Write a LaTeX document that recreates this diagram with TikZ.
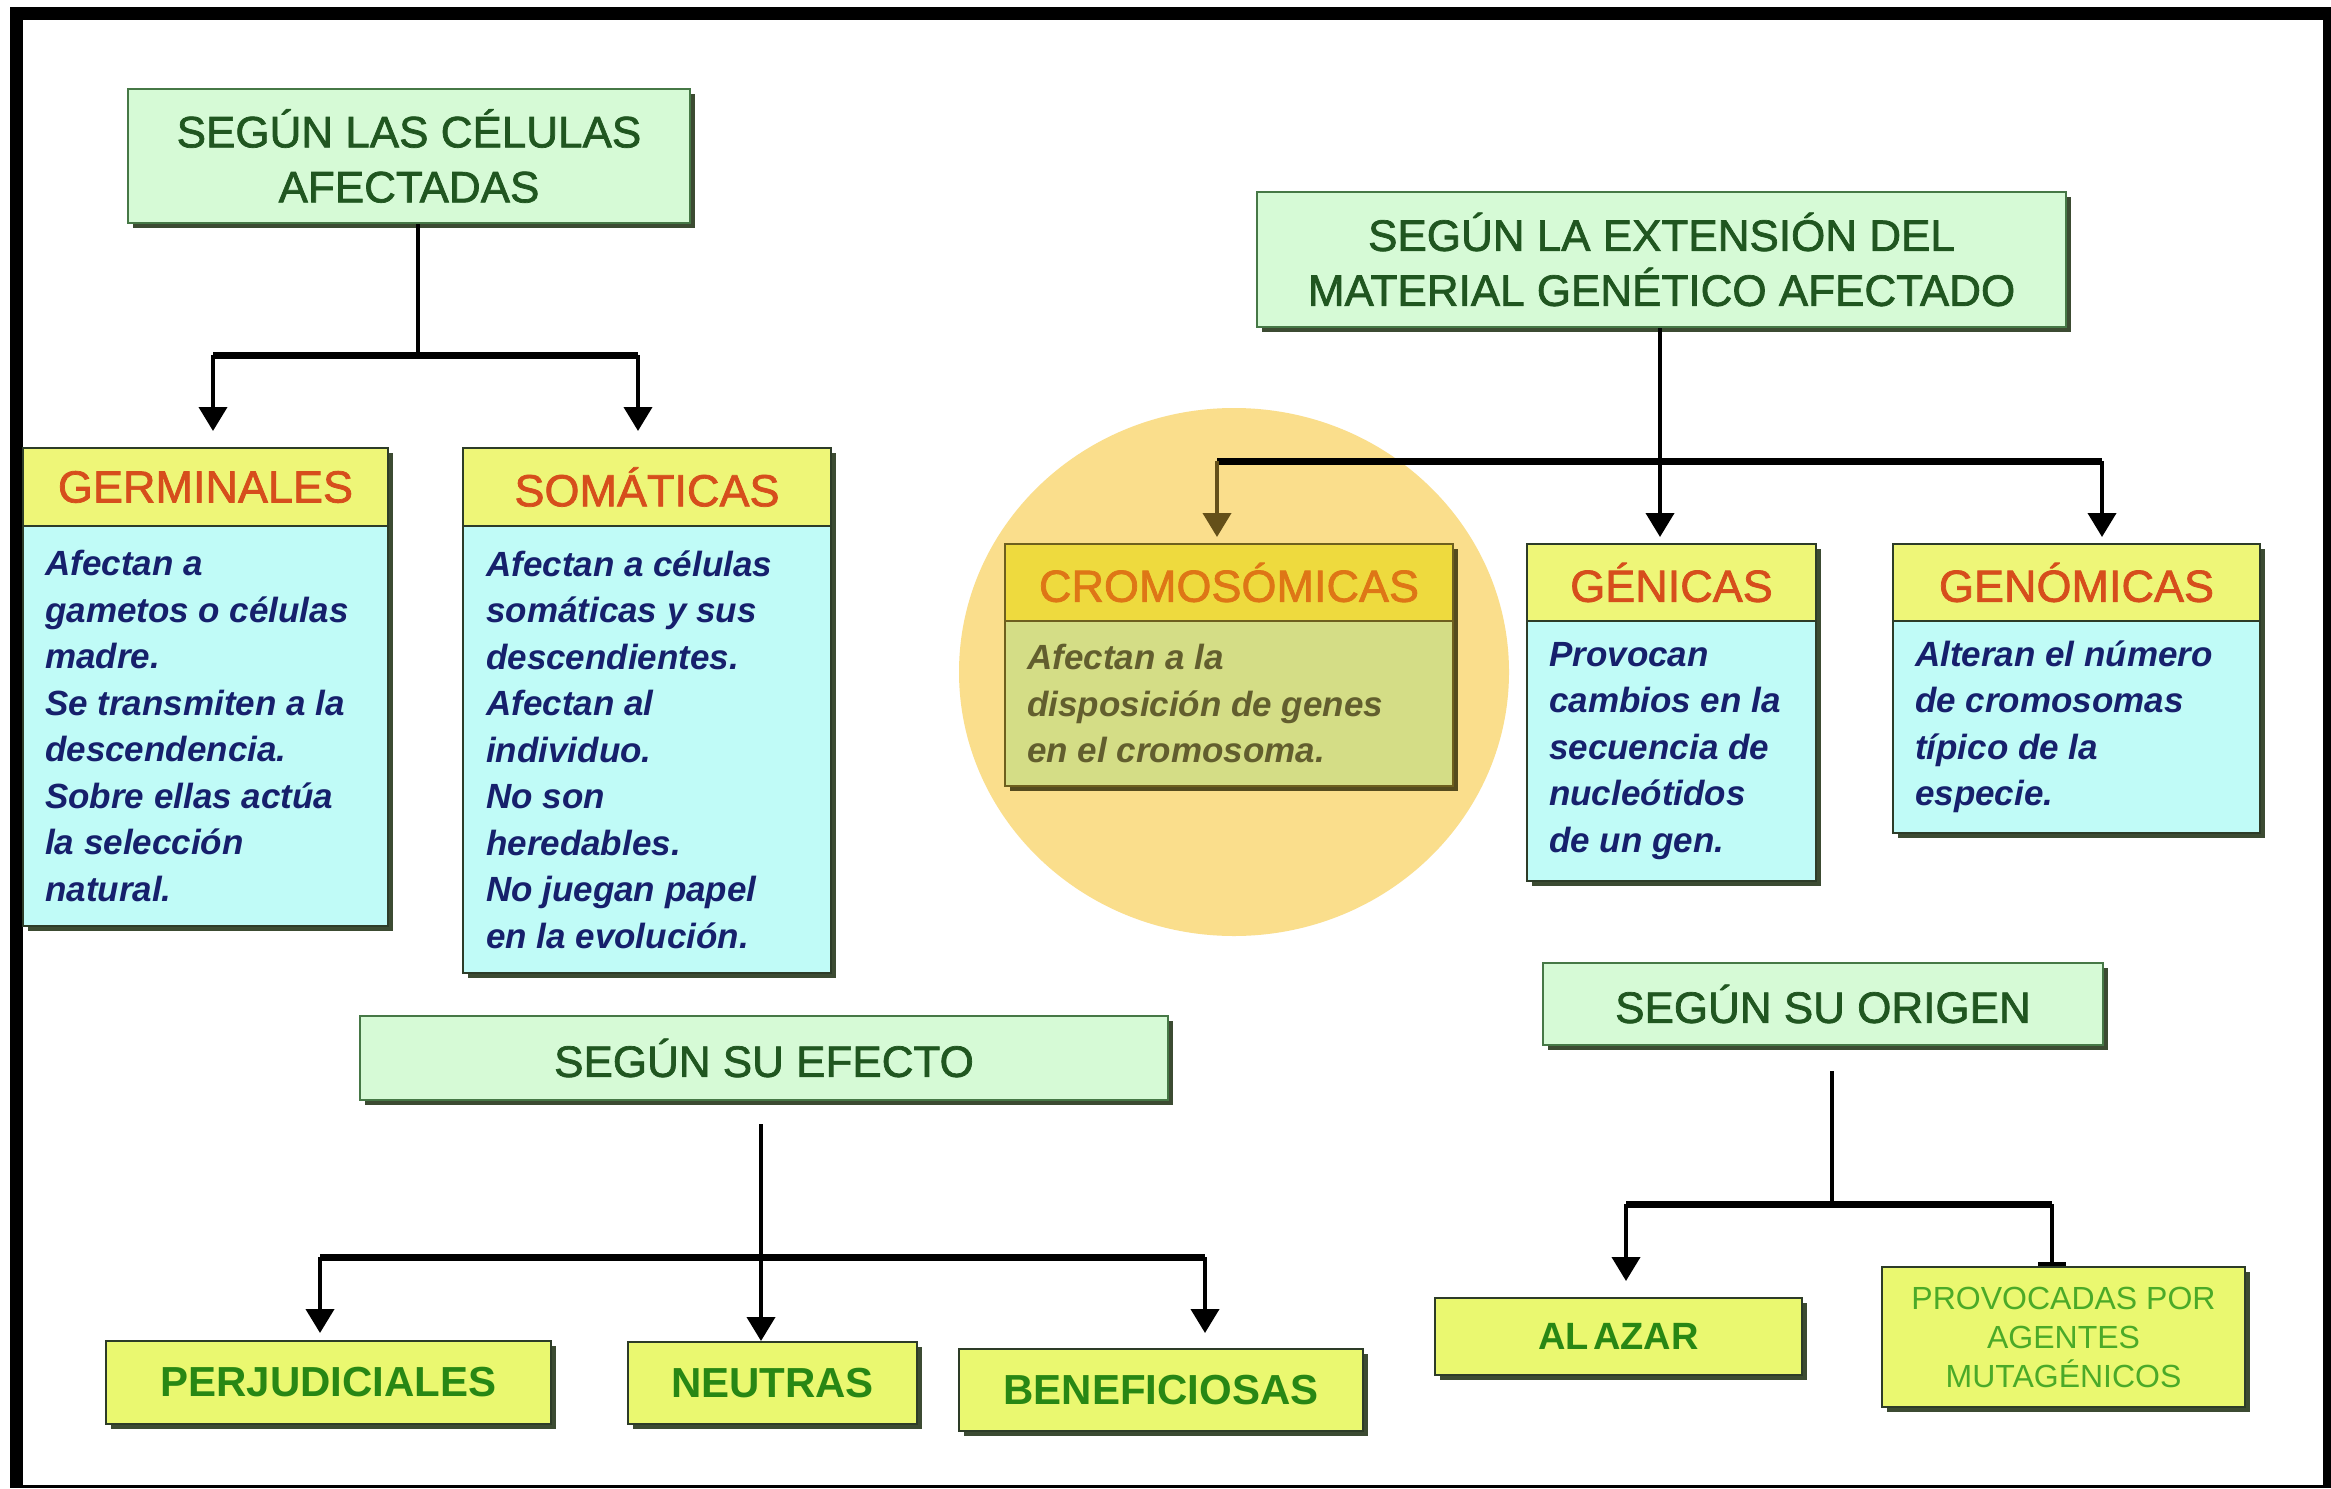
\documentclass[tikz,border=0pt]{standalone}
\usepackage{fontspec}
\setmainfont{Liberation Sans}
\newfontfamily\semib{Liberation Sans}[FakeBold=1.6]
\usetikzlibrary{shadows,calc,arrows.meta}

\definecolor{titlefill}{RGB}{214,250,214}
\definecolor{titleline}{RGB}{70,120,70}
\definecolor{titletext}{RGB}{32,86,32}
\definecolor{shadowc}{RGB}{60,75,50}
\definecolor{boxline}{RGB}{45,60,40}
\definecolor{hdrfill}{RGB}{238,246,120}
\definecolor{hdrtext}{RGB}{214,78,28}
\definecolor{bodyfill}{RGB}{192,251,247}
\definecolor{bodytextc}{RGB}{22,32,108}
\definecolor{leaffill}{RGB}{234,248,112}
\definecolor{leaftext}{RGB}{40,135,20}
\definecolor{provtext}{RGB}{75,170,40}
\definecolor{circfill}{RGB}{250,222,140}
\definecolor{chdr}{RGB}{238,218,62}
\definecolor{cbody}{RGB}{212,221,134}
\definecolor{chdrtext}{RGB}{222,118,22}
\definecolor{cbodytext}{RGB}{98,94,46}
\definecolor{cline}{RGB}{110,95,30}
\definecolor{cshadow}{RGB}{85,75,30}
\definecolor{arrbrown}{RGB}{100,80,25}

\tikzset{
  shadowed/.style={drop shadow={shadow xshift=5pt,shadow yshift=-5pt,fill=shadowc,opacity=1}},
  titlebox/.style={shadowed, draw=titleline, line width=2pt, fill=titlefill, anchor=north west,
    inner sep=0pt, align=center, text=titletext, font=\semib\fontsize{44}{55}\selectfont},
  hdrbox/.style={shadowed, draw=boxline, line width=2pt, fill=hdrfill, anchor=north west,
    inner sep=0pt, text=hdrtext, font=\semib\fontsize{45}{54}\selectfont},
  bodybox/.style={shadowed, draw=boxline, line width=2pt, fill=bodyfill, anchor=north west, inner sep=0pt},
  bodytx/.style={anchor=west, inner sep=0pt, align=left, text=bodytextc,
    font=\fontsize{35}{46.5}\selectfont\bfseries\itshape},
  leafbox/.style={shadowed, draw=boxline, line width=2pt, fill=leaffill, anchor=north west,
    inner sep=0pt, text=leaftext, font=\fontsize{42}{50}\selectfont\bfseries},
  vline/.style={line width=4pt, draw=black},
  busline/.style={line width=7pt, draw=black},
  arrowline/.style={line width=4pt, draw=black, -{Triangle[width=28pt,length=24pt]}},
}

\begin{document}
\begin{tikzpicture}[x=1pt,y=-1pt]
\useasboundingbox (0,0) rectangle (2331,1488);
\fill[white] (0,0) rectangle (2331,1488);
% frame
\fill[black] (10,7) rectangle (2331,1488);
\fill[white] (23,20) rectangle (2323,1485);

% highlight circle
\fill[circfill] (1234,672) ellipse [x radius=275, y radius=264];

% ---------- left: cells ----------
\node[titlebox, minimum width=562pt, minimum height=134pt] (t1) at (127,88) {SEGÚN LAS CÉLULAS\\AFECTADAS};

\node[hdrbox, minimum width=365pt, minimum height=78pt] (hG) at (22,447) {GERMINALES};
\node[bodybox, minimum width=365pt, minimum height=400pt] (bG) at (22,525) {};
\node[bodytx] (xG) at ($(bG.west)+(23,0)$) {Afectan a\\gametos o células\\madre.\\Se transmiten a la\\descendencia.\\Sobre ellas actúa\\la selección\\natural.};

\node[hdrbox, minimum width=368pt, minimum height=78pt] (hS) at (462,447) {SOMÁTICAS};
\node[bodybox, minimum width=368pt, minimum height=447pt] (bS) at (462,525) {};
\node[bodytx] (xS) at ($(bS.west)+(24,0)$) {Afectan a células\\somáticas y sus\\descendientes.\\Afectan al\\individuo.\\No son\\heredables.\\No juegan papel\\en la evolución.};

% ---------- left: effect ----------
\node[titlebox, minimum width=808pt, minimum height=84pt] (ef) at (359,1015) {SEGÚN SU EFECTO};
\node[leafbox, minimum width=445pt, minimum height=83pt] (lP) at (105,1340) {PERJUDICIALES};
\node[leafbox, minimum width=289pt, minimum height=82pt] (lN) at (627,1341) {NEUTRAS};
\node[leafbox, minimum width=404pt, minimum height=82pt] (lB) at (958,1348) {BENEFICIOSAS};

% ---------- right: extension ----------
\node[titlebox, minimum width=809pt, minimum height=135pt] (t2) at (1256,191) {SEGÚN LA EXTENSIÓN DEL\\MATERIAL GENÉTICO AFECTADO};

\node[hdrbox, fill=chdr, text=chdrtext, draw=cline, drop shadow={shadow xshift=5pt,shadow yshift=-5pt,fill=cshadow,opacity=1},
  minimum width=448pt, minimum height=77pt] (hC) at (1004,543) {CROMOSÓMICAS};
\node[bodybox, fill=cbody, draw=cline, drop shadow={shadow xshift=5pt,shadow yshift=-5pt,fill=cshadow,opacity=1},
  minimum width=448pt, minimum height=165pt] (bC) at (1004,620) {};
\node[bodytx, text=cbodytext] (xC) at ($(bC.west)+(23,0)$) {Afectan a la\\disposición de genes\\en el cromosoma.};

\node[hdrbox, minimum width=289pt, minimum height=77pt] (hGe) at (1526,543) {GÉNICAS};
\node[bodybox, minimum width=289pt, minimum height=260pt] (bGe) at (1526,620) {};
\node[bodytx] (xGe) at ($(bGe.west)+(23,0)$) {Provocan\\cambios en la\\secuencia de\\nucleótidos\\de un gen.};

\node[hdrbox, minimum width=367pt, minimum height=77pt] (hGo) at (1892,543) {GENÓMICAS};
\node[bodybox, minimum width=367pt, minimum height=212pt] (bGo) at (1892,620) {};
\node[bodytx] (xGo) at ($(bGo.west)+(23,0)$) {Alteran el número\\de cromosomas\\típico de la\\especie.};

% ---------- right: origin ----------
\node[titlebox, minimum width=560pt, minimum height=82pt] (orig) at (1542,962) {SEGÚN SU ORIGEN};
\node[leafbox, font=\fontsize{38}{46}\selectfont\bfseries, minimum width=367pt, minimum height=77pt] (lA) at (1434,1297) {AL\hspace{0.12em}AZAR};
\node[leafbox, align=center, text=provtext, font=\fontsize{32}{39}\selectfont,
  minimum width=363pt, minimum height=140pt] (lPr) at (1881,1266) {PROVOCADAS POR\\AGENTES\\MUTAGÉNICOS};

% ---------- connectors ----------
\coordinate (j1) at (418,355);
\coordinate (j1a) at (213,355);
\coordinate (j1b) at (638,355);
\draw[vline] (j1 |- t1.south) -- (j1);
\draw[busline] (j1a) -- (j1b);
\draw[arrowline] (j1a) -- ($(j1a |- hG.north)+(0,-16)$);
\draw[arrowline] (j1b) -- ($(j1b |- hS.north)+(0,-16)$);

\coordinate (j2) at (1660,461);
\coordinate (j2a) at (1217,461);
\coordinate (j2b) at (2102,461);
\draw[vline] (j2 |- t2.south) -- (j2);
\draw[busline] (j2a) -- (j2b);
\draw[arrowline, draw=arrbrown] (j2a) -- ($(j2a |- hC.north)+(0,-6)$);
\draw[arrowline] (j2) -- ($(j2 |- hGe.north)+(0,-6)$);
\draw[arrowline] (j2b) -- ($(j2b |- hGo.north)+(0,-6)$);

\coordinate (j3) at (761,1257);
\coordinate (j3a) at (320,1257);
\coordinate (j3b) at (1205,1257);
\draw[arrowline] ($(ef.south -| j3)+(0,23)$) -- (j3 |- lN.north);
\draw[busline] (j3a) -- (j3b);
\draw[arrowline] (j3a) -- ($(j3a |- lP.north)+(0,-7)$);
\draw[arrowline] (j3b) -- ($(j3b |- lB.north)+(0,-15)$);

\coordinate (j4) at (1832,1204);
\coordinate (j4a) at (1626,1204);
\coordinate (j4b) at (2052,1204);
\draw[vline] ($(orig.south -| j4)+(0,25)$) -- (j4);
\draw[busline] (j4a) -- (j4b);
\draw[arrowline] (j4a) -- ($(j4a |- lA.north)+(0,-16)$);
\draw[vline, -{Bar[width=28pt,line width=4pt]}] (j4b) -- (j4b |- lPr.north);
\end{tikzpicture}
\end{document}
